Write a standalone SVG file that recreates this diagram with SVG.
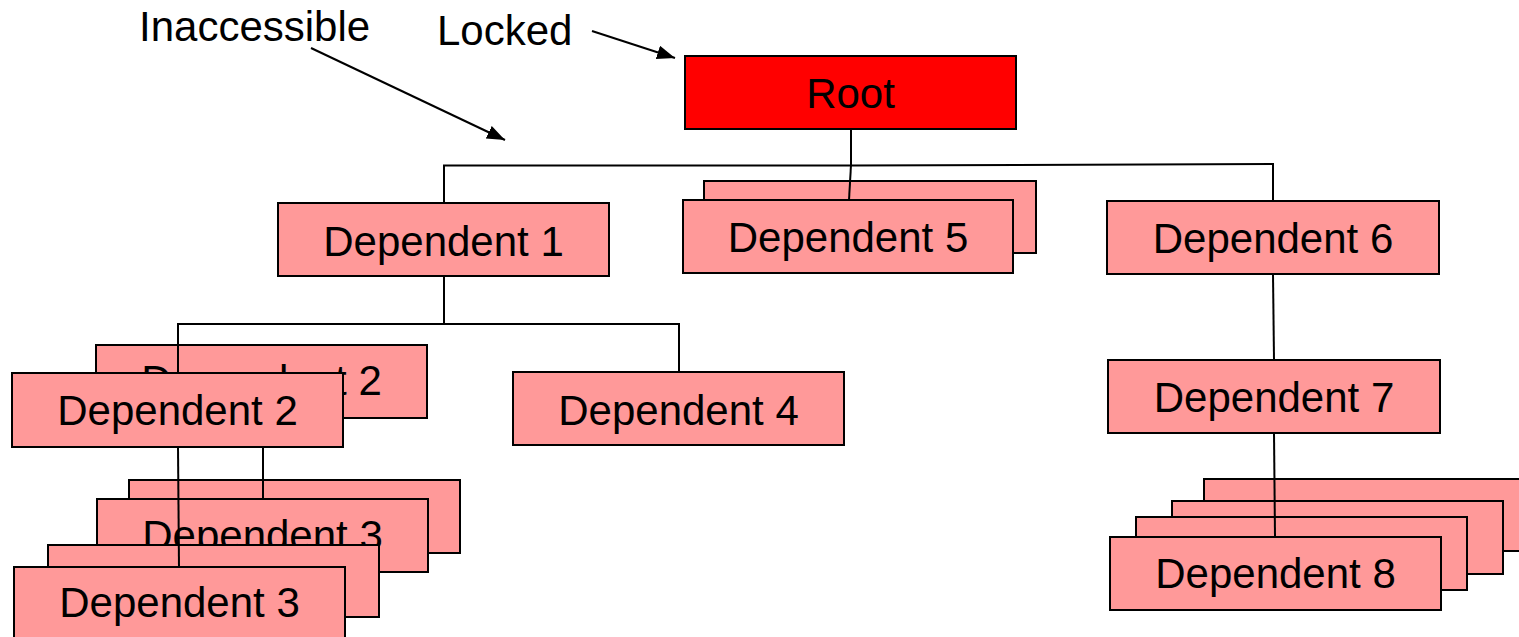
<svg xmlns="http://www.w3.org/2000/svg" width="1519" height="637" viewBox="0 0 1519 637">
  <style>
    .box { fill: #ff9999; stroke: #000; stroke-width: 2; }
    .root { fill: #ff0000; stroke: #000; stroke-width: 2; }
    .lbl { font-family: "Liberation Sans", Arial, sans-serif; font-size: 42px; fill: #000; text-anchor: middle; }
    .note { font-family: "Liberation Sans", Arial, sans-serif; font-size: 42px; fill: #000; }
    .wire { fill: none; stroke: #000; stroke-width: 2; }
    .pointer { fill: none; stroke: #000; stroke-width: 2; marker-end: url(#head); }
  </style>
  <defs>
    <marker id="head" markerUnits="userSpaceOnUse" markerWidth="20" markerHeight="16" refX="18" refY="7" orient="auto">
      <path d="M0,0 L18,7 L0,14 Z" fill="#000"/>
    </marker>
  </defs>
  <rect width="1519" height="637" fill="#fff"/>

  <!-- annotations -->
  <g id="note-inaccessible">
    <text class="note" x="139" y="41">Inaccessible</text>
  </g>
  <g id="note-locked">
    <text class="note" x="437" y="45">Locked</text>
  </g>

  <!-- nodes -->
  <g id="root">
    <rect class="root" x="685" y="56" width="331" height="73"/>
    <text class="lbl" x="850.5" y="108">Root</text>
  </g>
  <g id="dependent-1">
    <rect class="box" x="278" y="203" width="331" height="73"/>
    <text class="lbl" x="443.5" y="256">Dependent 1</text>
  </g>
  <g id="dependent-5">
    <rect class="box" x="704" y="181" width="332" height="72"/>
    <rect class="box" x="683" y="200" width="330" height="73"/>
    <text class="lbl" x="848" y="252">Dependent 5</text>
  </g>
  <g id="dependent-6">
    <rect class="box" x="1107" y="201" width="332" height="73"/>
    <text class="lbl" x="1273" y="253">Dependent 6</text>
  </g>
  <g id="dependent-7">
    <rect class="box" x="1108" y="360" width="332" height="73"/>
    <text class="lbl" x="1274" y="412">Dependent 7</text>
  </g>
  <g id="dependent-8">
    <rect class="box" x="1204" y="479" width="331" height="72"/>
    <rect class="box" x="1172" y="501" width="331" height="73"/>
    <rect class="box" x="1136" y="517" width="331" height="73"/>
    <rect class="box" x="1110" y="537" width="331" height="73"/>
    <text class="lbl" x="1275.5" y="588">Dependent 8</text>
  </g>
  <g id="dependent-4">
    <rect class="box" x="513" y="372" width="331" height="73"/>
    <text class="lbl" x="678.5" y="425">Dependent 4</text>
  </g>
  <g id="dependent-2">
    <rect class="box" x="96" y="345" width="331" height="73"/>
    <text class="lbl" x="261.5" y="395">Dependent 2</text>
    <rect class="box" x="12" y="373" width="331" height="74"/>
    <text class="lbl" x="177.5" y="425">Dependent 2</text>
  </g>
  <g id="dependent-3">
    <rect class="box" x="129" y="480" width="331" height="73"/>
    <rect class="box" x="97" y="499" width="331" height="73"/>
    <text class="lbl" x="262.5" y="550">Dependent 3</text>
    <rect class="box" x="48" y="545" width="331" height="72"/>
    <rect class="box" x="14" y="567" width="331" height="73"/>
    <text class="lbl" x="179.5" y="617">Dependent 3</text>
  </g>

  <!-- connectors -->
  <g id="connectors">
    <path class="wire" d="M851,129 L851,165.5 M444,203 L444,165.5 L851,165.5 L1273,164 L1273,201"/>
    <path class="wire" d="M851,165 L849,200"/>
    <path class="wire" d="M1273,274 L1274,360"/>
    <path class="wire" d="M1274,433 L1275,537"/>
    <path class="wire" d="M444,276 L444,324 M178,373 L178,324 L679,324 L679,372"/>
    <path class="wire" d="M178,447 L179,567"/>
    <path class="wire" d="M263,447 L263,499"/>
    <path class="pointer" d="M311,48 L505,140"/>
    <path class="pointer" d="M592,31 L675,58"/>
  </g>
</svg>
